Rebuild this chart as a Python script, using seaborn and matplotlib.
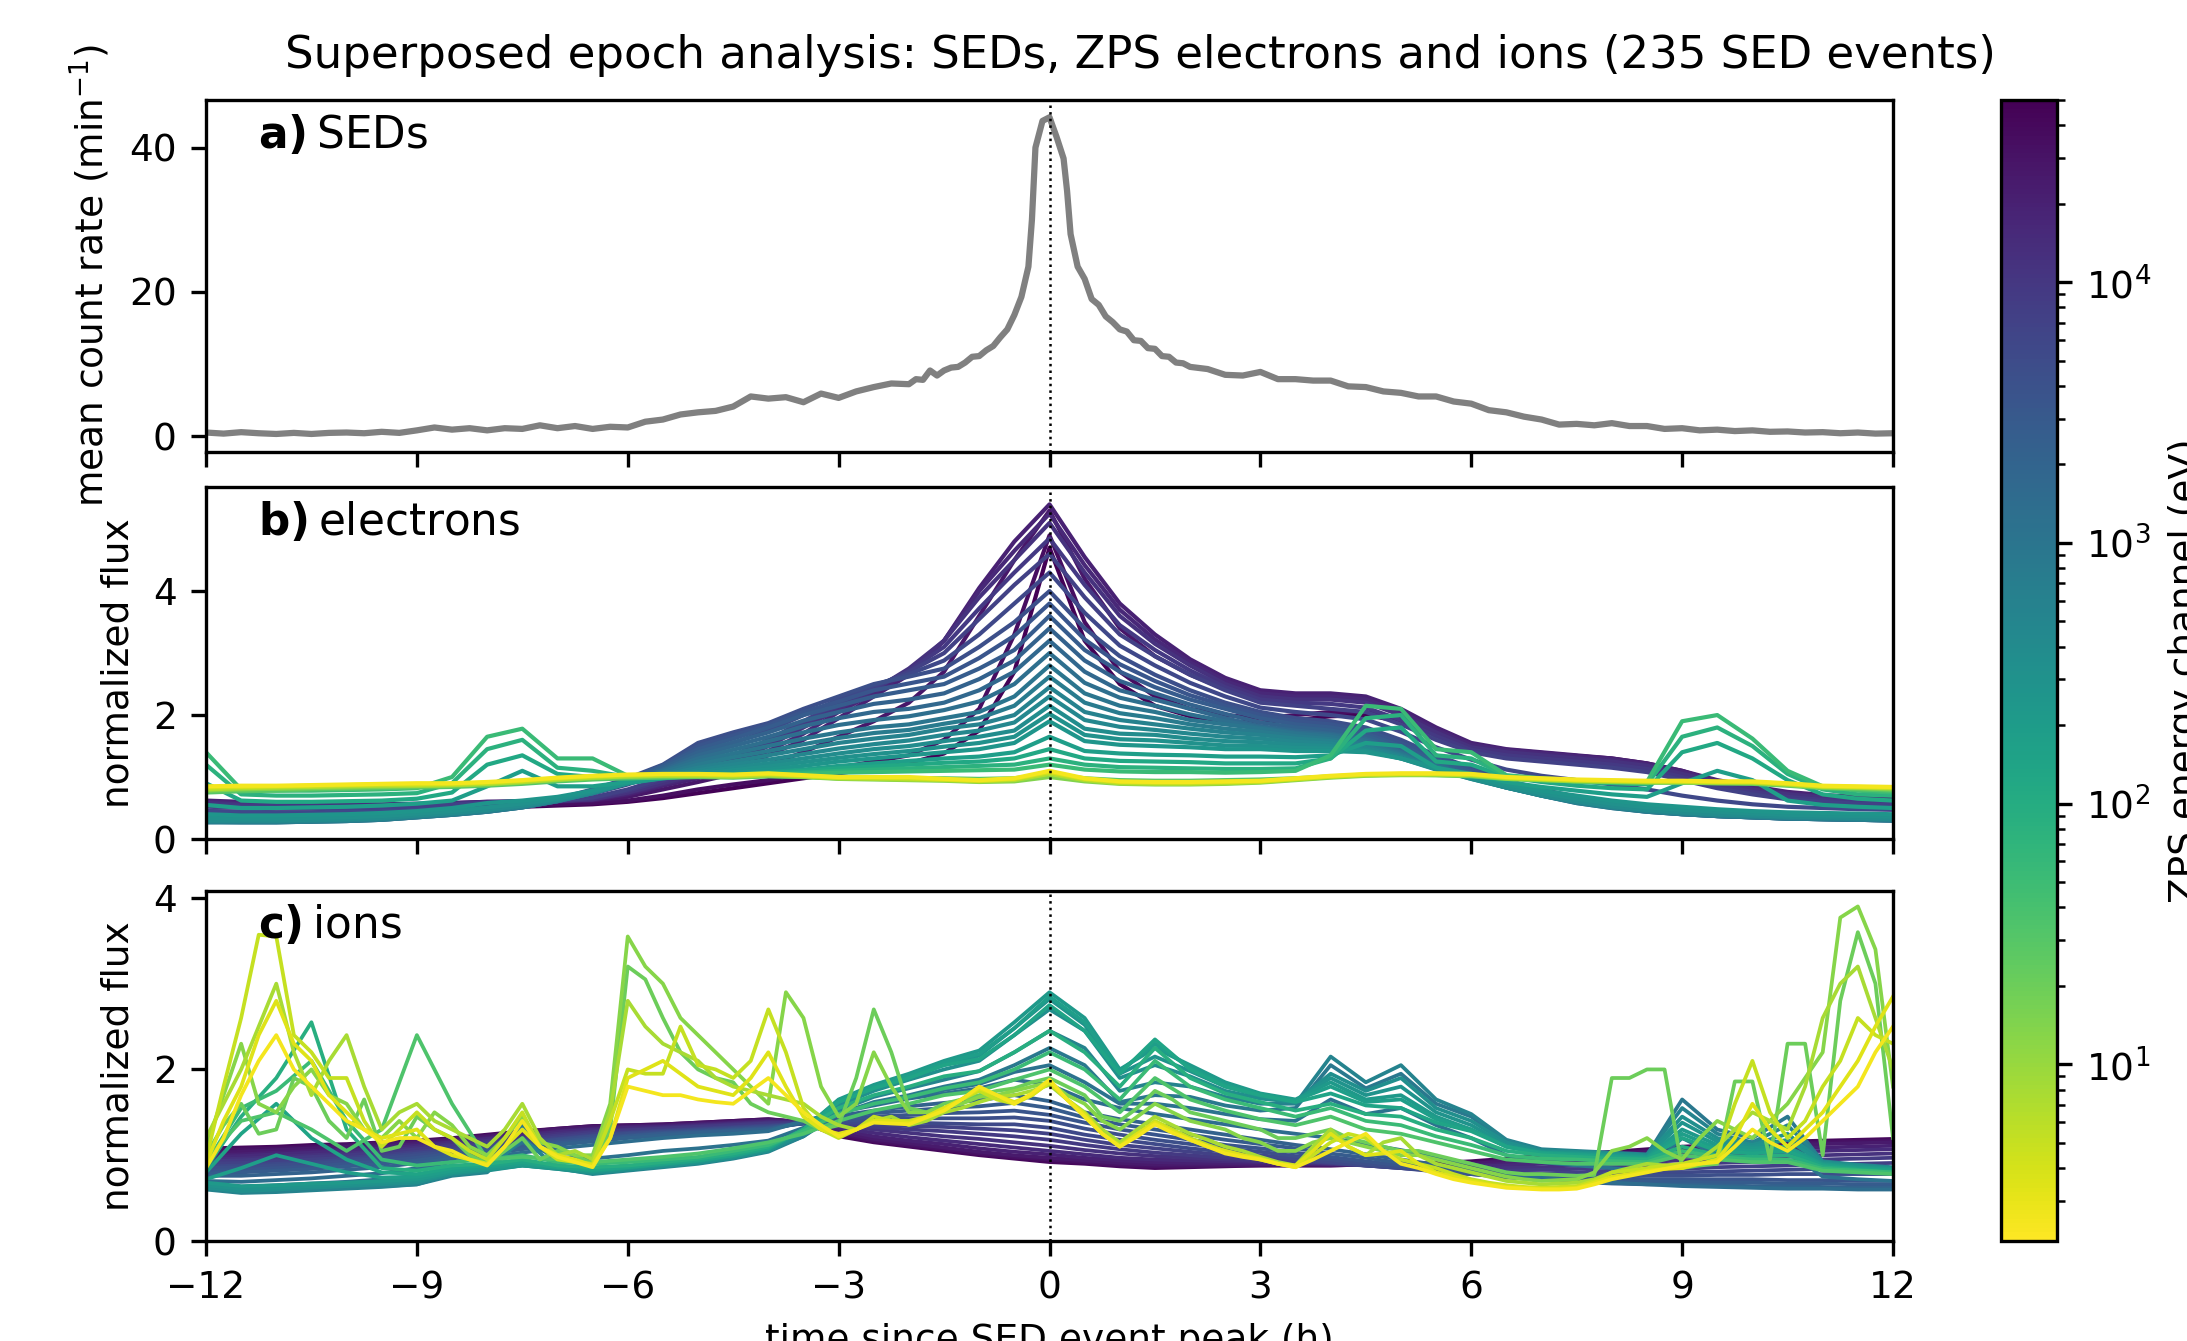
import matplotlib
matplotlib.use("Agg")
import numpy as np
import matplotlib.pyplot as plt
import seaborn as sns
from matplotlib.colors import LogNorm
from matplotlib.cm import ScalarMappable

plt.rcParams["font.size"] = 9

# ---------------- data ----------------
title = "Superposed epoch analysis: SEDs, ZPS electrons and ions (235 SED events)"

# SED mean count rate (min^-1)
sed_t = [-12, -11.75, -11.5, -11.25, -11, -10.75, -10.5, -10.25, -10, -9.75, -9.5, -9.25,
         -9, -8.75, -8.5, -8.25, -8, -7.75, -7.5, -7.25, -7, -6.75, -6.5, -6.25,
         -6, -5.75, -5.5, -5.25, -5, -4.75, -4.5, -4.25, -4, -3.75, -3.5, -3.25,
         -3, -2.75, -2.5, -2.25, -2,
         -1.9, -1.8, -1.7, -1.6, -1.5, -1.4, -1.3, -1.2, -1.1, -1.0, -0.9, -0.8, -0.7,
         -0.6, -0.5, -0.4, -0.3, -0.25, -0.2, -0.1, 0.0, 0.1, 0.2, 0.25, 0.3, 0.4, 0.5,
         0.6, 0.7, 0.8, 0.9, 1.0, 1.1, 1.2, 1.3, 1.4, 1.5, 1.6, 1.7, 1.8, 1.9,
         2.0, 2.25, 2.5, 2.75, 3.0, 3.25, 3.5, 3.75, 4.0, 4.25, 4.5, 4.75, 5.0, 5.25,
         5.5, 5.75, 6.0, 6.25, 6.5, 6.75, 7.0, 7.25, 7.5, 7.75, 8.0, 8.25, 8.5, 8.75,
         9.0, 9.25, 9.5, 9.75, 10.0, 10.25, 10.5, 10.75, 11.0, 11.25, 11.5, 11.75, 12.0]
sed_v = [0.5, 0.35, 0.55, 0.4, 0.3, 0.45, 0.3, 0.45, 0.5, 0.4, 0.6, 0.45,
         0.8, 1.2, 0.9, 1.1, 0.8, 1.1, 1.0, 1.5, 1.1, 1.4, 1.0, 1.3,
         1.2, 2.0, 2.3, 3.0, 3.3, 3.5, 4.1, 5.5, 5.2, 5.4, 4.7, 5.9,
         5.3, 6.2, 6.8, 7.3, 7.2,
         7.9, 7.8, 9.1, 8.4, 9.1, 9.5, 9.6, 10.2, 11.0, 11.1, 11.9, 12.5, 13.7,
         14.8, 16.8, 19.3, 23.5, 30.0, 40.0, 43.7, 44.2, 41.5, 38.5, 34.0, 28.0, 23.5, 21.8,
         19.0, 18.2, 16.6, 15.8, 14.8, 14.5, 13.3, 13.2, 12.2, 12.1, 11.1, 11.0, 10.2, 10.1,
         9.6, 9.3, 8.5, 8.4, 8.9, 7.9, 7.9, 7.7, 7.7, 6.9, 6.8, 6.2, 6.0, 5.5,
         5.5, 4.8, 4.5, 3.6, 3.3, 2.7, 2.3, 1.6, 1.7, 1.5, 1.8, 1.4, 1.4, 1.0,
         1.1, 0.8, 0.9, 0.7, 0.8, 0.6, 0.65, 0.5, 0.55, 0.4, 0.5, 0.35, 0.4]

# common time grid of the ZPS superposed epochs (h)
flux_t = [-12, -11.5, -11, -10.5, -10, -9.5, -9, -8.5, -8, -7.5, -7, -6.5, -6, -5.5, -5, -4.5,
          -4, -3.5, -3, -2.5, -2, -1.5, -1, -0.5, 0, 0.5, 1, 1.5, 2, 2.5, 3, 3.5,
          4, 4.5, 5, 5.5, 6, 6.5, 7, 7.5, 8, 8.5, 9, 9.5, 10, 10.5, 11, 11.5, 12]

# electron channel energies (eV) and normalized fluxes
elec_energy = [48000, 35000, 27000, 20000, 16000, 12000, 9500, 7000, 5700, 4500, 3500,
               2800, 2200, 1700, 1300, 1000, 780, 600, 480, 380, 320,
               260, 180, 120, 80, 55, 30, 14, 7, 4, 2.5]
elec_flux = [
    [0.42, 0.41, 0.40, 0.40, 0.41, 0.43, 0.45, 0.47, 0.50, 0.52, 0.54, 0.56, 0.60, 0.66, 0.74, 0.82,
     0.90, 0.98, 1.06, 1.14, 1.22, 1.38, 1.75, 2.70, 4.70, 3.20, 2.50, 2.15, 1.98, 1.90, 1.88, 1.92,
     1.98, 2.00, 1.90, 1.68, 1.50, 1.42, 1.38, 1.34, 1.30, 1.22, 1.10, 0.92, 0.80, 0.70, 0.64, 0.61, 0.59],
    [0.45, 0.44, 0.43, 0.43, 0.44, 0.46, 0.48, 0.50, 0.52, 0.54, 0.56, 0.58, 0.62, 0.70, 0.80, 0.88,
     0.95, 1.05, 1.15, 1.25, 1.35, 1.60, 2.10, 3.30, 4.90, 3.50, 2.70, 2.30, 2.10, 2.00, 1.95, 2.00,
     2.05, 2.05, 1.95, 1.70, 1.50, 1.42, 1.38, 1.33, 1.28, 1.20, 1.08, 0.90, 0.78, 0.68, 0.63, 0.60, 0.58],
    [0.55, 0.53, 0.52, 0.51, 0.51, 0.52, 0.54, 0.56, 0.58, 0.59, 0.60, 0.62, 0.68, 0.80, 0.92, 1.05,
     1.20, 1.40, 1.65, 1.90, 2.20, 2.70, 3.60, 4.50, 5.30, 4.20, 3.40, 2.95, 2.65, 2.42, 2.28, 2.25,
     2.28, 2.25, 2.05, 1.76, 1.53, 1.44, 1.39, 1.34, 1.29, 1.21, 1.09, 0.93, 0.82, 0.73, 0.68, 0.65, 0.63],
    [0.62, 0.60, 0.58, 0.57, 0.56, 0.56, 0.57, 0.58, 0.60, 0.60, 0.61, 0.63, 0.72, 0.86, 0.98, 1.15,
     1.35, 1.60, 1.95, 2.30, 2.65, 3.20, 4.05, 4.80, 5.40, 4.55, 3.80, 3.30, 2.90, 2.60, 2.40, 2.35,
     2.35, 2.30, 2.10, 1.80, 1.55, 1.45, 1.40, 1.35, 1.30, 1.22, 1.10, 0.95, 0.85, 0.76, 0.71, 0.68, 0.66],
    [0.60, 0.58, 0.57, 0.56, 0.55, 0.55, 0.56, 0.58, 0.60, 0.61, 0.62, 0.64, 0.74, 0.88, 1.02, 1.20,
     1.42, 1.70, 2.05, 2.35, 2.70, 3.20, 4.00, 4.65, 5.25, 4.42, 3.70, 3.22, 2.85, 2.55, 2.35, 2.30,
     2.30, 2.25, 2.05, 1.76, 1.52, 1.43, 1.38, 1.33, 1.28, 1.20, 1.08, 0.94, 0.82, 0.74, 0.69, 0.66, 0.64],
    [0.58, 0.56, 0.55, 0.54, 0.54, 0.54, 0.55, 0.57, 0.59, 0.60, 0.61, 0.64, 0.75, 0.90, 1.05, 1.25,
     1.50, 1.80, 2.10, 2.40, 2.75, 3.20, 3.90, 4.50, 5.10, 4.30, 3.60, 3.15, 2.80, 2.50, 2.30, 2.25,
     2.25, 2.20, 2.00, 1.72, 1.48, 1.40, 1.35, 1.30, 1.25, 1.18, 1.05, 0.92, 0.80, 0.72, 0.67, 0.65, 0.63],
    [0.55, 0.54, 0.53, 0.52, 0.52, 0.53, 0.54, 0.56, 0.59, 0.61, 0.62, 0.66, 0.78, 0.94, 1.10, 1.30,
     1.55, 1.85, 2.15, 2.42, 2.72, 3.10, 3.72, 4.30, 4.85, 4.10, 3.45, 3.05, 2.72, 2.45, 2.25, 2.20,
     2.18, 2.12, 1.92, 1.66, 1.44, 1.35, 1.30, 1.25, 1.20, 1.13, 1.00, 0.87, 0.76, 0.68, 0.63, 0.60, 0.58],
    [0.52, 0.51, 0.50, 0.50, 0.50, 0.51, 0.53, 0.55, 0.58, 0.60, 0.62, 0.67, 0.80, 0.98, 1.15, 1.35,
     1.60, 1.90, 2.20, 2.45, 2.70, 3.00, 3.55, 4.10, 4.60, 3.90, 3.30, 2.95, 2.65, 2.40, 2.20, 2.15,
     2.10, 2.05, 1.85, 1.60, 1.40, 1.30, 1.25, 1.20, 1.15, 1.08, 0.95, 0.82, 0.72, 0.64, 0.60, 0.57, 0.55],
    [0.45, 0.44, 0.43, 0.43, 0.44, 0.45, 0.47, 0.50, 0.53, 0.57, 0.63, 0.73, 0.88, 1.08, 1.35, 1.55,
     1.75, 2.00, 2.25, 2.48, 2.66, 2.88, 3.30, 3.80, 4.30, 3.65, 3.12, 2.80, 2.52, 2.30, 2.12, 2.05,
     2.00, 1.93, 1.73, 1.48, 1.28, 1.12, 1.02, 0.95, 0.88, 0.80, 0.70, 0.62, 0.56, 0.52, 0.50, 0.48, 0.47],
    [0.36, 0.35, 0.34, 0.34, 0.35, 0.37, 0.40, 0.44, 0.48, 0.55, 0.65, 0.80, 0.98, 1.20, 1.55, 1.72,
     1.87, 2.10, 2.30, 2.50, 2.62, 2.75, 3.10, 3.50, 4.00, 3.40, 2.95, 2.65, 2.40, 2.20, 2.05, 1.95,
     1.90, 1.80, 1.60, 1.35, 1.15, 0.95, 0.80, 0.68, 0.58, 0.50, 0.44, 0.40, 0.38, 0.36, 0.35, 0.34, 0.33],
    [0.34, 0.33, 0.32, 0.32, 0.33, 0.35, 0.39, 0.43, 0.47, 0.54, 0.64, 0.79, 0.96, 1.19, 1.50, 1.67,
     1.84, 2.05, 2.22, 2.40, 2.51, 2.62, 2.92, 3.28, 3.80, 3.22, 2.82, 2.55, 2.32, 2.15, 2.00, 1.90,
     1.85, 1.75, 1.55, 1.31, 1.11, 0.92, 0.77, 0.65, 0.56, 0.48, 0.43, 0.39, 0.37, 0.35, 0.34, 0.33, 0.32],
    [0.32, 0.31, 0.31, 0.31, 0.32, 0.34, 0.38, 0.42, 0.47, 0.54, 0.63, 0.78, 0.95, 1.18, 1.45, 1.62,
     1.80, 2.00, 2.15, 2.30, 2.40, 2.50, 2.75, 3.05, 3.60, 3.05, 2.70, 2.45, 2.25, 2.10, 1.95, 1.85,
     1.80, 1.70, 1.50, 1.28, 1.08, 0.90, 0.75, 0.63, 0.54, 0.47, 0.42, 0.38, 0.36, 0.34, 0.33, 0.32, 0.31],
    [0.30, 0.30, 0.30, 0.30, 0.31, 0.33, 0.37, 0.41, 0.46, 0.53, 0.62, 0.77, 0.94, 1.15, 1.40, 1.56,
     1.72, 1.91, 2.05, 2.18, 2.25, 2.35, 2.58, 2.88, 3.40, 2.88, 2.55, 2.35, 2.17, 2.02, 1.88, 1.80,
     1.75, 1.66, 1.46, 1.25, 1.05, 0.88, 0.73, 0.61, 0.53, 0.46, 0.41, 0.37, 0.35, 0.33, 0.32, 0.31, 0.30],
    [0.29, 0.28, 0.28, 0.29, 0.30, 0.32, 0.36, 0.40, 0.45, 0.52, 0.62, 0.76, 0.93, 1.12, 1.35, 1.50,
     1.65, 1.82, 1.95, 2.05, 2.10, 2.20, 2.40, 2.70, 3.20, 2.70, 2.40, 2.25, 2.10, 1.95, 1.82, 1.75,
     1.70, 1.62, 1.42, 1.22, 1.02, 0.86, 0.72, 0.60, 0.52, 0.45, 0.40, 0.37, 0.35, 0.33, 0.32, 0.31, 0.30],
    [0.28, 0.27, 0.27, 0.28, 0.29, 0.31, 0.35, 0.39, 0.44, 0.51, 0.61, 0.75, 0.92, 1.10, 1.30, 1.44,
     1.58, 1.72, 1.84, 1.92, 1.98, 2.08, 2.22, 2.50, 3.00, 2.52, 2.28, 2.15, 2.01, 1.90, 1.80, 1.72,
     1.68, 1.59, 1.40, 1.20, 1.01, 0.85, 0.71, 0.59, 0.51, 0.44, 0.40, 0.37, 0.35, 0.33, 0.32, 0.31, 0.30],
    [0.27, 0.27, 0.27, 0.28, 0.29, 0.31, 0.35, 0.39, 0.44, 0.51, 0.61, 0.74, 0.92, 1.08, 1.25, 1.38,
     1.50, 1.62, 1.72, 1.80, 1.85, 1.95, 2.05, 2.30, 2.80, 2.35, 2.15, 2.05, 1.92, 1.85, 1.78, 1.70,
     1.65, 1.56, 1.38, 1.18, 1.00, 0.84, 0.70, 0.58, 0.50, 0.44, 0.40, 0.37, 0.35, 0.33, 0.32, 0.31, 0.30],
    [0.27, 0.27, 0.27, 0.28, 0.29, 0.31, 0.35, 0.39, 0.44, 0.51, 0.61, 0.74, 0.91, 1.05, 1.20, 1.32,
     1.42, 1.53, 1.63, 1.71, 1.76, 1.86, 1.95, 2.15, 2.62, 2.20, 2.03, 1.95, 1.85, 1.78, 1.73, 1.66,
     1.61, 1.53, 1.36, 1.16, 0.99, 0.83, 0.70, 0.58, 0.50, 0.44, 0.40, 0.37, 0.35, 0.33, 0.32, 0.31, 0.30],
    [0.28, 0.28, 0.28, 0.29, 0.30, 0.32, 0.36, 0.40, 0.45, 0.52, 0.62, 0.74, 0.90, 1.03, 1.15, 1.25,
     1.35, 1.45, 1.55, 1.62, 1.68, 1.78, 1.85, 2.00, 2.45, 2.05, 1.92, 1.85, 1.78, 1.72, 1.68, 1.62,
     1.58, 1.50, 1.34, 1.15, 0.98, 0.83, 0.70, 0.59, 0.51, 0.45, 0.41, 0.38, 0.36, 0.34, 0.33, 0.32, 0.31],
    [0.29, 0.29, 0.29, 0.30, 0.31, 0.33, 0.37, 0.41, 0.46, 0.53, 0.62, 0.74, 0.90, 1.01, 1.11, 1.20,
     1.28, 1.37, 1.46, 1.53, 1.59, 1.68, 1.75, 1.88, 2.30, 1.92, 1.81, 1.76, 1.70, 1.65, 1.62, 1.57,
     1.54, 1.47, 1.32, 1.13, 0.97, 0.83, 0.70, 0.60, 0.52, 0.46, 0.42, 0.39, 0.37, 0.35, 0.34, 0.33, 0.32],
    [0.30, 0.30, 0.30, 0.31, 0.32, 0.34, 0.38, 0.42, 0.47, 0.54, 0.63, 0.75, 0.90, 1.00, 1.08, 1.15,
     1.22, 1.30, 1.38, 1.45, 1.50, 1.58, 1.65, 1.75, 2.15, 1.78, 1.70, 1.68, 1.62, 1.58, 1.56, 1.52,
     1.50, 1.44, 1.30, 1.12, 0.97, 0.83, 0.71, 0.61, 0.53, 0.47, 0.43, 0.40, 0.38, 0.36, 0.35, 0.34, 0.33],
    [0.34, 0.33, 0.33, 0.34, 0.35, 0.37, 0.41, 0.45, 0.51, 0.57, 0.65, 0.76, 0.90, 0.99, 1.05, 1.11,
     1.17, 1.24, 1.31, 1.37, 1.42, 1.49, 1.55, 1.65, 2.02, 1.68, 1.61, 1.59, 1.55, 1.51, 1.50, 1.47,
     1.46, 1.42, 1.30, 1.13, 0.98, 0.85, 0.74, 0.65, 0.57, 0.51, 0.47, 0.44, 0.41, 0.39, 0.38, 0.37, 0.36],
    [0.40, 0.38, 0.38, 0.39, 0.40, 0.42, 0.45, 0.50, 0.58, 0.62, 0.68, 0.78, 0.90, 0.98, 1.03, 1.08,
     1.12, 1.18, 1.25, 1.30, 1.35, 1.40, 1.45, 1.55, 1.90, 1.58, 1.52, 1.50, 1.48, 1.45, 1.45, 1.42,
     1.42, 1.40, 1.30, 1.15, 1.00, 0.88, 0.78, 0.70, 0.62, 0.56, 0.52, 0.48, 0.45, 0.43, 0.42, 0.41, 0.40],
    [0.55, 0.50, 0.50, 0.51, 0.52, 0.54, 0.57, 0.62, 0.85, 1.10, 0.85, 0.85, 0.92, 0.98, 1.02, 1.05,
     1.08, 1.12, 1.18, 1.22, 1.26, 1.30, 1.33, 1.40, 1.65, 1.42, 1.38, 1.36, 1.35, 1.33, 1.33, 1.32,
     1.35, 1.55, 1.50, 1.15, 1.05, 0.92, 0.84, 0.78, 0.72, 0.68, 0.90, 1.10, 0.95, 0.62, 0.55, 0.52, 0.50],
    [0.90, 0.62, 0.60, 0.60, 0.61, 0.62, 0.65, 0.75, 1.20, 1.35, 1.05, 1.00, 0.97, 1.00, 1.02, 1.04,
     1.06, 1.10, 1.14, 1.17, 1.20, 1.23, 1.25, 1.30, 1.45, 1.30, 1.26, 1.25, 1.24, 1.22, 1.22, 1.22,
     1.30, 1.75, 1.80, 1.25, 1.20, 1.00, 0.92, 0.86, 0.82, 0.80, 1.40, 1.55, 1.30, 0.95, 0.72, 0.65, 0.62],
    [1.20, 0.72, 0.70, 0.70, 0.71, 0.72, 0.74, 0.90, 1.45, 1.60, 1.15, 1.10, 1.00, 1.00, 1.01, 1.03,
     1.04, 1.07, 1.10, 1.12, 1.14, 1.16, 1.18, 1.20, 1.30, 1.20, 1.16, 1.15, 1.14, 1.13, 1.13, 1.14,
     1.30, 1.95, 2.00, 1.35, 1.30, 1.02, 0.96, 0.92, 0.90, 0.88, 1.65, 1.80, 1.50, 1.05, 0.80, 0.72, 0.70],
    [1.40, 0.80, 0.78, 0.78, 0.79, 0.80, 0.82, 1.00, 1.65, 1.78, 1.30, 1.30, 1.02, 1.00, 1.01, 1.02,
     1.03, 1.05, 1.07, 1.08, 1.09, 1.10, 1.11, 1.12, 1.20, 1.12, 1.09, 1.08, 1.08, 1.07, 1.08, 1.10,
     1.35, 2.15, 2.10, 1.45, 1.40, 1.03, 0.98, 0.95, 0.93, 0.92, 1.90, 2.00, 1.62, 1.10, 0.85, 0.78, 0.75],
    [0.75, 0.77, 0.78, 0.80, 0.81, 0.82, 0.83, 0.84, 0.86, 0.89, 0.93, 0.96, 0.98, 0.99, 1.00, 0.99,
     1.01, 1.00, 0.98, 0.98, 0.98, 0.98, 0.97, 0.98, 1.05, 0.98, 0.95, 0.94, 0.94, 0.95, 0.96, 0.98,
     1.01, 1.03, 1.04, 1.03, 1.01, 0.97, 0.95, 0.93, 0.92, 0.91, 0.91, 0.90, 0.89, 0.86, 0.82, 0.80, 0.78],
    [0.78, 0.80, 0.81, 0.82, 0.83, 0.84, 0.85, 0.86, 0.88, 0.91, 0.95, 0.98, 1.00, 1.01, 1.01, 1.00,
     1.02, 1.00, 0.97, 0.96, 0.95, 0.94, 0.92, 0.93, 1.00, 0.93, 0.89, 0.88, 0.88, 0.89, 0.91, 0.95,
     0.99, 1.02, 1.03, 1.03, 1.02, 0.97, 0.95, 0.93, 0.92, 0.91, 0.91, 0.90, 0.90, 0.87, 0.83, 0.82, 0.80],
    [0.80, 0.82, 0.83, 0.84, 0.85, 0.86, 0.86, 0.87, 0.89, 0.92, 0.96, 0.99, 1.01, 1.02, 1.02, 1.01,
     1.03, 1.01, 0.98, 0.97, 0.96, 0.95, 0.93, 0.95, 1.05, 0.95, 0.90, 0.89, 0.89, 0.90, 0.92, 0.96,
     1.00, 1.03, 1.04, 1.04, 1.03, 0.98, 0.96, 0.94, 0.93, 0.92, 0.92, 0.91, 0.91, 0.88, 0.84, 0.83, 0.82],
    [0.83, 0.84, 0.85, 0.86, 0.87, 0.88, 0.88, 0.89, 0.91, 0.94, 0.98, 1.01, 1.03, 1.04, 1.04, 1.03,
     1.05, 1.02, 0.99, 0.99, 0.98, 0.96, 0.94, 0.97, 1.08, 0.97, 0.92, 0.91, 0.91, 0.92, 0.93, 0.97,
     1.01, 1.04, 1.05, 1.05, 1.04, 0.99, 0.97, 0.95, 0.94, 0.93, 0.93, 0.92, 0.92, 0.89, 0.85, 0.84, 0.83],
    [0.85, 0.86, 0.86, 0.87, 0.88, 0.89, 0.90, 0.90, 0.92, 0.95, 0.99, 1.02, 1.04, 1.05, 1.05, 1.04,
     1.06, 1.03, 1.00, 1.00, 1.00, 0.97, 0.95, 0.98, 1.10, 0.98, 0.93, 0.92, 0.92, 0.93, 0.94, 0.98,
     1.02, 1.05, 1.06, 1.06, 1.05, 1.00, 0.98, 0.96, 0.95, 0.94, 0.94, 0.93, 0.93, 0.90, 0.86, 0.85, 0.84],
]

# ion channel energies (eV) and normalized fluxes on the common grid
ion_energy = [40000, 32000, 25000, 20000, 15000, 12000, 9000, 7000, 5500, 4500, 3500, 2800,
              2200, 1400, 1100, 900, 550, 350, 280, 220, 180, 140, 90, 55, 35]
ion_flux = [
    [1.08, 1.09, 1.10, 1.12, 1.13, 1.15, 1.17, 1.20, 1.24, 1.28, 1.31, 1.34, 1.35, 1.36, 1.38, 1.40,
     1.42, 1.38, 1.22, 1.15, 1.10, 1.05, 1.00, 0.96, 0.92, 0.90, 0.87, 0.85, 0.86, 0.87, 0.88, 0.88,
     0.88, 0.89, 0.90, 0.91, 0.93, 0.96, 1.00, 1.02, 1.04, 1.07, 1.10, 1.12, 1.15, 1.16, 1.17, 1.18, 1.19],
    [1.06, 1.07, 1.08, 1.10, 1.12, 1.14, 1.16, 1.19, 1.23, 1.27, 1.31, 1.34, 1.35, 1.36, 1.38, 1.40,
     1.42, 1.39, 1.25, 1.17, 1.12, 1.07, 1.02, 0.98, 0.95, 0.92, 0.89, 0.87, 0.87, 0.88, 0.88, 0.88,
     0.88, 0.89, 0.89, 0.90, 0.91, 0.94, 0.98, 1.00, 1.02, 1.05, 1.08, 1.10, 1.13, 1.14, 1.15, 1.16, 1.17],
    [1.03, 1.04, 1.06, 1.08, 1.10, 1.12, 1.15, 1.18, 1.22, 1.26, 1.30, 1.33, 1.34, 1.35, 1.37, 1.39,
     1.41, 1.39, 1.27, 1.19, 1.14, 1.09, 1.04, 1.00, 0.97, 0.94, 0.91, 0.89, 0.89, 0.89, 0.89, 0.89,
     0.89, 0.89, 0.89, 0.89, 0.90, 0.93, 0.97, 0.99, 1.01, 1.04, 1.07, 1.09, 1.11, 1.12, 1.13, 1.14, 1.15],
    [1.00, 1.01, 1.03, 1.05, 1.07, 1.10, 1.13, 1.16, 1.20, 1.24, 1.28, 1.31, 1.33, 1.34, 1.36, 1.38,
     1.40, 1.39, 1.30, 1.22, 1.17, 1.13, 1.08, 1.04, 1.01, 0.97, 0.94, 0.92, 0.91, 0.91, 0.90, 0.90,
     0.89, 0.89, 0.88, 0.88, 0.88, 0.90, 0.93, 0.95, 0.97, 1.00, 1.02, 1.04, 1.06, 1.08, 1.09, 1.10, 1.11],
    [0.98, 0.99, 1.01, 1.03, 1.05, 1.08, 1.11, 1.15, 1.19, 1.23, 1.27, 1.30, 1.32, 1.33, 1.35, 1.37,
     1.39, 1.39, 1.32, 1.26, 1.21, 1.17, 1.13, 1.09, 1.05, 1.01, 0.97, 0.95, 0.94, 0.93, 0.92, 0.91,
     0.90, 0.89, 0.88, 0.87, 0.87, 0.88, 0.90, 0.92, 0.94, 0.96, 0.98, 1.00, 1.02, 1.04, 1.05, 1.06, 1.07],
    [0.95, 0.96, 0.98, 1.00, 1.02, 1.05, 1.09, 1.13, 1.17, 1.21, 1.25, 1.28, 1.30, 1.32, 1.34, 1.36,
     1.38, 1.38, 1.34, 1.30, 1.26, 1.22, 1.19, 1.15, 1.11, 1.06, 1.02, 0.99, 0.97, 0.95, 0.93, 0.92,
     0.90, 0.88, 0.86, 0.85, 0.84, 0.85, 0.86, 0.88, 0.90, 0.92, 0.94, 0.95, 0.97, 0.99, 1.00, 1.01, 1.02],
    [0.93, 0.94, 0.96, 0.98, 1.00, 1.03, 1.07, 1.11, 1.15, 1.19, 1.23, 1.27, 1.29, 1.31, 1.33, 1.35,
     1.37, 1.38, 1.36, 1.33, 1.30, 1.28, 1.25, 1.22, 1.18, 1.12, 1.07, 1.03, 1.00, 0.97, 0.95, 0.93,
     0.91, 0.88, 0.85, 0.83, 0.82, 0.82, 0.83, 0.84, 0.86, 0.88, 0.89, 0.91, 0.92, 0.94, 0.95, 0.96, 0.97],
    [0.90, 0.91, 0.93, 0.95, 0.97, 1.00, 1.04, 1.08, 1.13, 1.17, 1.21, 1.25, 1.27, 1.29, 1.31, 1.33,
     1.35, 1.37, 1.37, 1.36, 1.34, 1.33, 1.31, 1.29, 1.25, 1.18, 1.12, 1.08, 1.04, 1.00, 0.97, 0.94,
     0.91, 0.88, 0.85, 0.82, 0.80, 0.79, 0.79, 0.80, 0.82, 0.83, 0.84, 0.86, 0.87, 0.88, 0.89, 0.90, 0.91],
    [0.87, 0.88, 0.90, 0.92, 0.95, 0.98, 1.02, 1.06, 1.11, 1.15, 1.19, 1.23, 1.26, 1.28, 1.30, 1.32,
     1.34, 1.37, 1.38, 1.38, 1.38, 1.37, 1.36, 1.36, 1.32, 1.24, 1.18, 1.13, 1.08, 1.04, 1.00, 0.96,
     0.92, 0.88, 0.85, 0.81, 0.78, 0.76, 0.76, 0.77, 0.78, 0.79, 0.80, 0.81, 0.82, 0.83, 0.84, 0.84, 0.85],
    [0.85, 0.86, 0.88, 0.90, 0.93, 0.96, 1.00, 1.04, 1.09, 1.14, 1.18, 1.22, 1.25, 1.27, 1.29, 1.31,
     1.33, 1.37, 1.40, 1.42, 1.43, 1.43, 1.43, 1.44, 1.40, 1.31, 1.24, 1.18, 1.13, 1.08, 1.04, 0.99,
     0.95, 0.90, 0.86, 0.82, 0.78, 0.75, 0.74, 0.74, 0.75, 0.76, 0.76, 0.77, 0.77, 0.78, 0.78, 0.78, 0.78],
    [0.82, 0.83, 0.85, 0.87, 0.90, 0.93, 0.97, 1.02, 1.07, 1.12, 1.16, 1.20, 1.23, 1.26, 1.28, 1.30,
     1.32, 1.37, 1.42, 1.45, 1.47, 1.49, 1.50, 1.52, 1.47, 1.38, 1.30, 1.24, 1.18, 1.12, 1.08, 1.03,
     0.98, 0.93, 0.88, 0.83, 0.78, 0.74, 0.72, 0.72, 0.72, 0.72, 0.72, 0.72, 0.72, 0.71, 0.71, 0.70, 0.70],
    [0.79, 0.80, 0.82, 0.84, 0.87, 0.90, 0.94, 0.99, 1.05, 1.10, 1.14, 1.18, 1.22, 1.25, 1.27, 1.29,
     1.31, 1.38, 1.44, 1.49, 1.52, 1.55, 1.57, 1.61, 1.55, 1.44, 1.36, 1.30, 1.24, 1.18, 1.13, 1.08,
     1.02, 0.97, 0.91, 0.86, 0.80, 0.75, 0.72, 0.70, 0.69, 0.69, 0.69, 0.68, 0.68, 0.67, 0.67, 0.66, 0.66],
    [0.76, 0.76, 0.78, 0.80, 0.83, 0.86, 0.91, 0.96, 1.02, 1.07, 1.12, 1.16, 1.20, 1.23, 1.26, 1.28,
     1.30, 1.38, 1.46, 1.52, 1.57, 1.61, 1.64, 1.70, 1.63, 1.50, 1.42, 1.36, 1.30, 1.24, 1.18, 1.12,
     1.07, 1.01, 0.95, 0.89, 0.82, 0.76, 0.72, 0.69, 0.67, 0.66, 0.66, 0.65, 0.64, 0.64, 0.63, 0.62, 0.62],
    [0.70, 0.69, 0.71, 0.73, 0.76, 0.79, 0.85, 0.92, 0.98, 1.03, 1.08, 1.12, 1.16, 1.20, 1.23, 1.25,
     1.28, 1.40, 1.50, 1.58, 1.66, 1.72, 1.78, 1.88, 1.82, 1.65, 1.55, 1.48, 1.42, 1.36, 1.30, 1.25,
     1.20, 1.13, 1.06, 0.98, 0.90, 0.80, 0.74, 0.70, 0.68, 0.66, 0.64, 0.63, 0.62, 0.61, 0.61, 0.60, 0.60],
    [0.66, 0.63, 0.65, 0.67, 0.69, 0.72, 0.76, 0.85, 0.90, 1.15, 0.98, 0.96, 1.00, 1.05, 1.08, 1.12,
     1.17, 1.32, 1.50, 1.60, 1.68, 1.76, 1.83, 1.97, 2.05, 1.85, 1.60, 1.60, 1.55, 1.48, 1.42, 1.40,
     1.65, 1.48, 1.55, 1.35, 1.20, 1.00, 0.92, 0.88, 0.85, 0.82, 1.20, 1.00, 0.95, 1.05, 0.75, 0.72, 0.70],
    [0.62, 0.57, 0.58, 0.60, 0.62, 0.64, 0.66, 0.78, 0.82, 1.35, 0.88, 0.80, 0.84, 0.88, 0.92, 0.98,
     1.06, 1.22, 1.48, 1.62, 1.70, 1.80, 1.88, 2.05, 2.25, 2.05, 1.62, 1.70, 1.68, 1.58, 1.52, 1.55,
     2.05, 1.78, 1.95, 1.60, 1.45, 1.15, 1.06, 1.04, 1.02, 1.00, 1.65, 1.30, 1.20, 1.45, 0.92, 0.88, 0.85],
    [0.60, 0.56, 0.57, 0.59, 0.61, 0.63, 0.66, 0.76, 0.80, 1.20, 0.85, 0.78, 0.82, 0.86, 0.90, 0.96,
     1.04, 1.22, 1.52, 1.68, 1.78, 1.88, 1.98, 2.20, 2.45, 2.25, 1.75, 1.85, 1.80, 1.68, 1.60, 1.60,
     2.15, 1.85, 2.05, 1.65, 1.48, 1.18, 1.07, 1.05, 1.03, 1.01, 1.55, 1.25, 1.15, 1.35, 0.93, 0.89, 0.86],
    [0.62, 0.58, 0.60, 0.62, 0.64, 0.66, 0.68, 0.78, 0.82, 0.88, 0.84, 0.79, 0.83, 0.87, 0.91, 0.97,
     1.05, 1.25, 1.58, 1.75, 1.88, 2.00, 2.10, 2.40, 2.70, 2.45, 1.90, 2.05, 1.92, 1.75, 1.66, 1.62,
     1.95, 1.75, 1.90, 1.55, 1.40, 1.15, 1.05, 1.04, 1.02, 1.00, 1.45, 1.20, 1.12, 1.25, 0.92, 0.88, 0.85],
    [0.65, 0.61, 0.62, 0.64, 0.66, 0.68, 0.70, 0.79, 0.83, 0.88, 0.84, 0.80, 0.84, 0.88, 0.92, 0.98,
     1.06, 1.28, 1.62, 1.78, 1.92, 2.05, 2.16, 2.48, 2.82, 2.52, 1.95, 2.15, 1.98, 1.80, 1.69, 1.63,
     1.90, 1.70, 1.80, 1.50, 1.35, 1.12, 1.04, 1.03, 1.01, 0.99, 1.38, 1.16, 1.10, 1.18, 0.91, 0.87, 0.84],
    [0.68, 0.64, 0.65, 0.67, 0.68, 0.70, 0.72, 0.80, 0.84, 0.88, 0.85, 0.81, 0.85, 0.89, 0.93, 0.99,
     1.07, 1.30, 1.65, 1.82, 1.95, 2.10, 2.22, 2.55, 2.90, 2.60, 2.00, 2.25, 2.05, 1.85, 1.72, 1.65,
     1.85, 1.65, 1.70, 1.45, 1.30, 1.10, 1.03, 1.02, 1.00, 0.98, 1.30, 1.12, 1.08, 1.10, 0.90, 0.86, 0.84],
    [0.72, 0.85, 1.00, 0.90, 0.80, 0.74, 0.75, 0.82, 0.86, 0.90, 0.86, 0.82, 0.86, 0.90, 0.94, 1.00,
     1.08, 1.30, 1.64, 1.80, 1.93, 2.08, 2.18, 2.48, 2.85, 2.55, 1.98, 2.30, 2.02, 1.82, 1.71, 1.64,
     1.80, 1.62, 1.65, 1.42, 1.30, 1.10, 1.03, 1.01, 0.99, 0.97, 1.25, 1.08, 1.05, 1.08, 0.89, 0.85, 0.83],
    [0.80, 1.25, 1.60, 1.20, 0.95, 0.80, 0.78, 0.85, 0.88, 0.92, 0.86, 0.83, 0.86, 0.90, 0.94, 1.00,
     1.08, 1.30, 1.62, 1.78, 1.90, 2.05, 2.12, 2.40, 2.75, 2.45, 1.95, 2.35, 2.00, 1.80, 1.70, 1.62,
     1.72, 1.58, 1.55, 1.38, 1.28, 1.10, 1.02, 1.00, 0.98, 0.96, 1.20, 1.05, 1.02, 1.05, 0.88, 0.84, 0.82],
    [0.85, 1.45, 1.90, 2.55, 1.30, 0.85, 0.82, 0.88, 0.90, 0.95, 0.88, 0.86, 0.88, 0.92, 0.96, 1.02,
     1.10, 1.30, 1.55, 1.70, 1.80, 1.92, 1.98, 2.20, 2.45, 2.20, 1.80, 2.25, 1.90, 1.72, 1.62, 1.52,
     1.60, 1.48, 1.45, 1.30, 1.20, 1.05, 1.00, 0.98, 0.96, 0.95, 1.10, 1.00, 0.98, 1.00, 0.86, 0.83, 0.80],
    [0.90, 1.55, 1.75, 2.10, 1.40, 0.95, 0.88, 0.92, 0.95, 1.00, 0.92, 0.90, 0.92, 0.95, 0.98, 1.05,
     1.12, 1.28, 1.48, 1.60, 1.68, 1.78, 1.85, 2.00, 2.20, 2.00, 1.65, 2.10, 1.80, 1.65, 1.55, 1.45,
     1.55, 1.40, 1.35, 1.22, 1.12, 1.00, 0.96, 0.95, 0.93, 0.92, 1.05, 0.98, 0.95, 0.95, 0.84, 0.82, 0.80],
    [0.95, 1.40, 1.50, 1.30, 1.05, 1.30, 2.40, 1.60, 0.95, 0.98, 0.95, 0.92, 0.95, 0.98, 1.02, 1.08,
     1.15, 1.25, 1.40, 1.52, 1.60, 1.70, 1.75, 1.88, 2.00, 1.80, 1.50, 1.90, 1.65, 1.52, 1.42, 1.35,
     1.45, 1.30, 1.25, 1.15, 1.05, 0.95, 0.92, 0.90, 0.90, 0.90, 1.00, 0.95, 0.92, 0.92, 0.82, 0.80, 0.78],
]

# lowest-energy ion channels (spiky), read on a finer 0.25 h grid
ion_fine_t = [-12, -11.75, -11.5, -11.25, -11, -10.75, -10.5, -10.25, -10, -9.75, -9.5, -9.25,
              -9, -8.75, -8.5, -8.25, -8, -7.75, -7.5, -7.25, -7, -6.75, -6.5, -6.25,
              -6, -5.75, -5.5, -5.25, -5, -4.75, -4.5, -4.25, -4, -3.75, -3.5, -3.25,
              -3, -2.75, -2.5, -2.25, -2, -1.75, -1.5, -1.25, -1, -0.75, -0.5, -0.25,
              0, 0.25, 0.5, 0.75, 1, 1.25, 1.5, 1.75, 2, 2.25, 2.5, 2.75,
              3, 3.25, 3.5, 3.75, 4, 4.25, 4.5, 4.75, 5, 5.25, 5.5, 5.75,
              6, 6.25, 6.5, 6.75, 7, 7.25, 7.5, 7.75, 8, 8.25, 8.5, 8.75,
              9, 9.25, 9.5, 9.75, 10, 10.25, 10.5, 10.75, 11, 11.25, 11.5, 11.75, 12]
ion_fine_energy = [20, 13, 8, 5, 3.5, 2.5]
ion_fine_flux = [
    [1.00, 1.35, 1.60, 1.25, 1.30, 1.90, 1.80, 1.40, 1.20, 1.65, 1.05, 1.10,
     1.45, 1.30, 1.20, 1.00, 0.90, 1.05, 1.20, 0.95, 1.05, 1.00, 0.90, 1.30,
     3.20, 3.05, 2.60, 2.20, 2.00, 1.90, 1.85, 1.60, 1.50, 1.45, 1.40, 1.30,
     1.35, 1.90, 2.70, 2.20, 1.55, 1.50, 1.60, 1.65, 1.70, 1.75, 1.78, 1.85,
     1.90, 1.80, 1.70, 1.45, 1.40, 1.55, 1.75, 1.65, 1.50, 1.45, 1.40, 1.35,
     1.30, 1.20, 1.20, 1.25, 1.30, 1.20, 1.15, 1.10, 1.05, 1.05, 1.00, 0.95,
     0.90, 0.85, 0.80, 0.78, 0.78, 0.77, 0.76, 0.77, 1.90, 1.90, 2.00, 2.00,
     0.85, 0.88, 0.90, 1.86, 1.86, 0.95, 2.30, 2.30, 1.00, 2.80, 3.60, 3.00,
     1.20],
    [1.10, 1.70, 2.30, 1.60, 1.50, 1.80, 2.00, 1.70, 1.60, 1.30, 1.20, 1.40,
     1.20, 1.50, 1.35, 1.10, 1.00, 1.20, 1.45, 1.15, 1.10, 1.00, 1.00, 1.60,
     3.55, 3.20, 3.00, 2.60, 2.40, 2.20, 2.00, 1.80, 1.60, 2.90, 2.60, 1.80,
     1.45, 1.60, 2.20, 1.80, 1.50, 1.50, 1.55, 1.60, 1.68, 1.70, 1.75, 1.80,
     1.85, 1.70, 1.60, 1.40, 1.30, 1.45, 1.60, 1.50, 1.40, 1.35, 1.30, 1.20,
     1.15, 1.05, 1.05, 1.15, 1.20, 1.15, 1.10, 1.05, 1.00, 1.00, 0.95, 0.90,
     0.85, 0.80, 0.75, 0.72, 0.70, 0.71, 0.72, 0.80, 1.05, 1.10, 1.20, 1.05,
     0.95, 1.20, 1.40, 1.30, 1.20, 1.40, 1.60, 1.90, 2.20, 3.77, 3.90, 3.40,
     1.80],
    [1.20, 1.60, 2.00, 2.50, 3.00, 2.20, 1.70, 2.10, 2.40, 1.80, 1.30, 1.50,
     1.60, 1.40, 1.30, 1.20, 1.10, 1.30, 1.60, 1.20, 1.00, 1.05, 0.95, 1.50,
     2.80, 2.50, 2.30, 2.20, 2.10, 1.90, 1.80, 1.75, 1.70, 1.65, 1.60, 1.45,
     1.35, 1.30, 1.40, 1.45, 1.35, 1.40, 1.50, 1.55, 1.62, 1.68, 1.70, 1.75,
     1.82, 1.65, 1.50, 1.30, 1.15, 1.30, 1.45, 1.35, 1.25, 1.18, 1.10, 1.05,
     0.98, 0.92, 0.88, 1.10, 1.30, 1.10, 1.00, 1.15, 1.20, 1.00, 0.90, 0.85,
     0.80, 0.75, 0.70, 0.68, 0.66, 0.67, 0.68, 0.72, 0.80, 0.85, 0.90, 0.88,
     0.85, 0.95, 1.10, 1.30, 1.50, 1.40, 1.30, 1.80, 2.60, 3.00, 3.20, 2.60,
     2.00],
    [0.95, 1.80, 2.60, 3.57, 3.55, 2.40, 2.20, 1.90, 1.90, 1.40, 1.10, 1.30,
     1.50, 1.30, 1.20, 1.05, 0.95, 1.20, 1.50, 1.10, 0.95, 0.92, 0.90, 1.40,
     2.00, 1.95, 1.95, 2.50, 2.05, 2.00, 1.90, 2.10, 2.70, 2.20, 1.55, 1.30,
     1.20, 1.30, 1.45, 1.40, 1.40, 1.45, 1.55, 1.65, 1.75, 1.65, 1.60, 1.70,
     1.85, 1.65, 1.45, 1.25, 1.12, 1.25, 1.40, 1.30, 1.20, 1.12, 1.05, 1.00,
     0.95, 0.90, 0.86, 1.00, 1.15, 1.25, 1.20, 1.05, 0.95, 0.90, 0.85, 0.78,
     0.72, 0.68, 0.65, 0.63, 0.62, 0.63, 0.64, 0.70, 0.80, 0.82, 0.85, 0.88,
     0.90, 0.95, 1.00, 1.60, 2.10, 1.50, 1.20, 1.40, 1.80, 2.10, 2.60, 2.40,
     2.30],
    [0.90, 1.40, 1.80, 2.40, 2.80, 2.30, 2.10, 1.70, 1.50, 1.30, 1.20, 1.25,
     1.30, 1.10, 1.00, 0.95, 0.90, 1.10, 1.30, 1.10, 1.00, 0.95, 0.88, 1.20,
     1.90, 2.00, 2.10, 1.95, 1.80, 1.75, 1.70, 1.90, 2.20, 1.80, 1.45, 1.30,
     1.25, 1.30, 1.40, 1.40, 1.38, 1.45, 1.55, 1.65, 1.78, 1.70, 1.62, 1.70,
     1.85, 1.65, 1.48, 1.25, 1.10, 1.25, 1.38, 1.28, 1.18, 1.10, 1.05, 1.00,
     0.96, 0.90, 0.88, 1.05, 1.25, 1.10, 1.00, 1.02, 1.05, 0.90, 0.80, 0.75,
     0.70, 0.66, 0.63, 0.62, 0.61, 0.61, 0.62, 0.68, 0.75, 0.78, 0.82, 0.84,
     0.85, 0.90, 0.95, 1.20, 1.60, 1.30, 1.10, 1.30, 1.50, 1.80, 2.10, 2.50,
     2.85],
    [0.85, 1.20, 1.70, 2.10, 2.40, 2.00, 1.80, 1.60, 1.40, 1.30, 1.15, 1.20,
     1.20, 1.10, 1.05, 0.95, 0.88, 1.10, 1.40, 1.10, 0.98, 0.92, 0.86, 1.20,
     1.80, 1.75, 1.70, 1.70, 1.65, 1.62, 1.60, 1.75, 1.90, 1.70, 1.50, 1.35,
     1.22, 1.30, 1.38, 1.37, 1.36, 1.44, 1.52, 1.65, 1.80, 1.70, 1.60, 1.72,
     1.88, 1.65, 1.45, 1.25, 1.10, 1.22, 1.36, 1.26, 1.18, 1.10, 1.02, 0.98,
     0.95, 0.90, 0.86, 0.95, 1.05, 1.15, 1.25, 1.05, 0.90, 0.85, 0.78, 0.72,
     0.68, 0.65, 0.62, 0.61, 0.60, 0.60, 0.61, 0.66, 0.72, 0.76, 0.80, 0.84,
     0.88, 0.90, 0.92, 1.10, 1.30, 1.15, 1.05, 1.20, 1.40, 1.60, 1.80, 2.20,
     2.50],
]

xticks = [-12, -9, -6, -3, 0, 3, 6, 9, 12]

# ---------------- figure ----------------
W, H = 2187, 1341
fig = plt.figure(figsize=(W / 300, H / 300), dpi=300)

def box(left, top, right, bottom):
    return [left / W, 1 - bottom / H, (right - left) / W, (bottom - top) / H]

ax_a = fig.add_axes(box(206, 100, 1893, 452))
ax_b = fig.add_axes(box(206, 487, 1893, 839))
ax_c = fig.add_axes(box(206, 891, 1893, 1241))
cax = fig.add_axes(box(2001, 100, 2057, 1241))

cmap = plt.get_cmap("viridis_r")
norm = LogNorm(vmin=2.1, vmax=5e4)

# a) SEDs
sns.lineplot(x=sed_t, y=sed_v, ax=ax_a, color="gray", lw=1.5, estimator=None)
ax_a.set_ylim(-2.2, 46.6)
ax_a.set_yticks([0, 20, 40])
ax_a.set_ylabel("mean count rate (min$^{-1}$)")

# b) electrons, high energies first so low energies end on top
for E, row in sorted(zip(elec_energy, elec_flux), key=lambda p: -p[0]):
    sns.lineplot(x=flux_t, y=row, ax=ax_b, color=cmap(norm(E)), lw=1.0, estimator=None)
ax_b.set_ylim(0, 5.68)
ax_b.set_yticks([0, 2, 4])
ax_b.set_ylabel("normalized flux")

# c) ions
ion_series = [(E, flux_t, row) for E, row in zip(ion_energy, ion_flux)]
ion_series += [(E, ion_fine_t, row) for E, row in zip(ion_fine_energy, ion_fine_flux)]
for E, tt, row in sorted(ion_series, key=lambda p: -p[0]):
    sns.lineplot(x=tt, y=row, ax=ax_c, color=cmap(norm(E)), lw=0.9, estimator=None)
ax_c.set_ylim(0, 4.08)
ax_c.set_yticks([0, 2, 4])
ax_c.set_ylabel("normalized flux")
ax_c.set_xlabel("time since SED event peak (h)")

labels = [("a)", "SEDs"), ("b)", "electrons"), ("c)", "ions")]
for ax, (tag, name) in zip([ax_a, ax_b, ax_c], labels):
    ax.set_xlim(-12, 12)
    ax.set_xticks(xticks)
    ax.axvline(0, color="k", ls=":", lw=0.6, zorder=10)
    ax.text(0.031, 0.865, r"$\mathbf{" + tag + "}$\u2009" + name, transform=ax.transAxes,
            fontsize=10.5, va="baseline", ha="left")
    ax.set_facecolor("white")
for ax in [ax_a, ax_b]:
    ax.tick_params(labelbottom=False)
    ax.set_xlabel("")

sm = ScalarMappable(norm=norm, cmap=cmap)
cb = fig.colorbar(sm, cax=cax)
cb.set_label("ZPS energy channel (eV)")

fig.suptitle(title, x=1140 / W, y=1 - 68 / H, va="baseline", fontsize=10.8)

fig.savefig("out.png", dpi=300, facecolor="white")
